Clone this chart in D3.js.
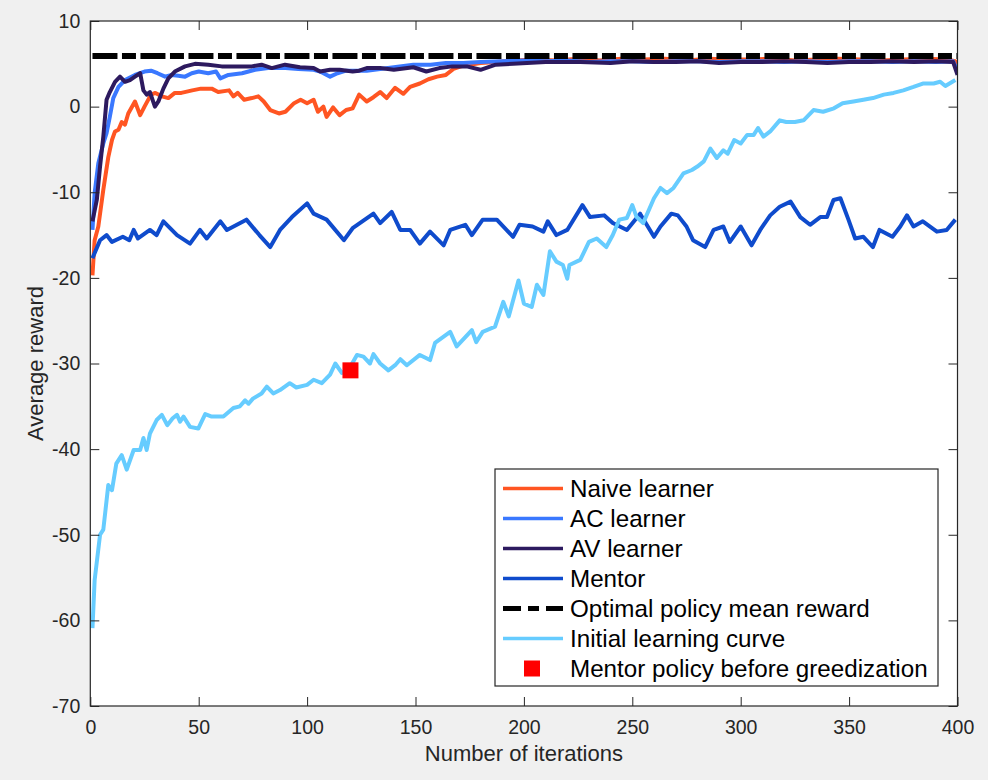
<!DOCTYPE html>
<html>
<head>
<meta charset="utf-8">
<script src="https://cdn.jsdelivr.net/npm/d3@7"></script>
<style>
  body { margin: 0; background: #f0f0f0; }
  svg { display: block; font-family: "Liberation Sans", Arial, Helvetica, sans-serif; }
  .axis path, .axis line { stroke: #262626; }
  .axis text { fill: #262626; font-size: 19.5px; }
</style>
</head>
<body>
<svg id="chart" width="988" height="780"></svg>
<script>
// x ticks, y ticks
var iterTicks = [0, 50, 100, 150, 200, 250, 300, 350, 400];
var rewardTicks = [-70, -60, -50, -40, -30, -20, -10, 0, 10];

// [iteration, average reward]
var naive = [[1,-19.7],[2,-15.6],[3.7,-14.0],[6,-9.7],[8.3,-5.9],[10,-3.9],[11.4,-2.9],[13,-2.7],[14.5,-1.8],[16,-2.1],[17.5,-0.8],[20.6,0.6],[23,-1.0],[25,0],[28,1.4],[30,1.6],[33,1.2],[36,1.0],[39,1.6],[42,1.6],[47,1.9],[51,2.1],[56,2.1],[59,1.7],[64,1.9],[66,1.2],[68,1.6],[71,0.8],[74.5,1.0],[77.5,1.2],[80,0.6],[83,-0.4],[87,-0.8],[90,-0.6],[94,0.4],[97,0.8],[100,0.4],[103,0.8],[105,-0.6],[107.5,0],[109,-1.2],[112,-0.1],[115,-1.0],[118,-0.4],[121,-0.2],[124,1.4],[127.5,0.6],[130.6,1.1],[133.7,1.7],[136.7,1.0],[140.6,2.2],[144.4,1.5],[147.5,2.3],[152,2.7],[156,3.2],[160,3.5],[164,3.7],[167.5,4.4],[171,4.7],[175,4.9],[180,5.1],[187,5.2],[195,5.4],[205,5.5],[215,5.4],[225,5.6],[235,5.4],[245,5.6],[255,5.5],[265,5.6],[275,5.4],[285,5.6],[295,5.5],[305,5.5],[315,5.6],[325,5.4],[335,5.5],[345,5.6],[355,5.5],[365,5.4],[375,5.5],[385,5.6],[395,5.5],[399,5.3],[400,4.6]];

var acLearner = [[1,-14.4],[2,-10.1],[3.7,-6.6],[6,-4.3],[7.5,-3.1],[9,-1.2],[10.6,1.0],[13,2.3],[16,3.1],[20.6,3.7],[25,4.1],[28,4.2],[31,3.9],[34.5,3.5],[37.5,3.7],[40.6,3.6],[43.7,3.5],[46.8,3.9],[50,4.1],[54.4,3.9],[58,4.1],[60,3.3],[63.7,3.7],[70,3.9],[76,4.3],[82,4.5],[90,4.5],[96,4.4],[103,4.3],[106,4.1],[110.6,3.5],[114,3.9],[118,4.2],[127.5,4.2],[133.7,4.4],[140,4.6],[149,4.9],[157,4.9],[164,5.1],[172,5.1],[180,5.2],[190,5.3],[200,5.4],[210,5.3],[220,5.4],[230,5.2],[240,5.3],[250,5.3],[260,5.2],[270,5.3],[280,5.3],[290,5.2],[300,5.3],[310,5.3],[320,5.2],[330,5.3],[340,5.2],[350,5.3],[360,5.3],[370,5.2],[380,5.3],[390,5.2],[398,5.3],[400,4.2]];

var avLearner = [[1,-13.4],[3,-10.9],[4.5,-7.0],[6,-3.5],[7.5,0.8],[9,1.7],[11.4,2.9],[13.7,3.5],[16,2.9],[18.3,3.1],[20.6,3.5],[23,3.9],[24.5,1.9],[26,1.4],[27.5,1.7],[29.8,0],[31.4,0.6],[33.7,2.1],[36,3.3],[39,4.1],[43.7,4.7],[48.3,5.0],[54.4,4.9],[60.6,4.7],[66.8,4.7],[74.5,4.7],[79,4.9],[83.7,4.5],[89.8,4.9],[96.7,4.6],[103,4.5],[106,4.1],[110.6,4.3],[115,4.3],[121,4.1],[124,4.2],[127.5,4.5],[133.7,4.5],[140,4.3],[149,4.6],[155,4.1],[161,4.5],[167,4.7],[173.6,4.7],[180,4.3],[187,4.9],[195,5.0],[210,5.2],[226,5.2],[240,5.1],[250,5.3],[260,5.2],[270,5.2],[280,5.3],[290,5.1],[300,5.2],[310,5.2],[320,5.3],[330,5.2],[340,5.1],[350,5.2],[360,5.2],[370,5.3],[380,5.2],[390,5.3],[398,5.2],[400,3.7]];

var mentor = [[1,-17.7],[4.5,-15.6],[7.5,-15.0],[10,-15.8],[15,-15.2],[18,-15.6],[20,-14.4],[22,-15.4],[27.5,-14.4],[30.6,-15.0],[33.7,-13.4],[40,-15.0],[46,-16.0],[50.6,-14.4],[53.7,-15.4],[60,-13.4],[63,-14.4],[72,-13.2],[78,-15.0],[83,-16.4],[87.5,-14.4],[93,-12.9],[100,-11.3],[103,-12.5],[109,-13.2],[117,-15.6],[121,-14.2],[130.6,-12.5],[133.7,-13.6],[139,-12.3],[143,-14.4],[147.5,-14.4],[152,-16.0],[156.7,-14.6],[163,-16.2],[166,-14.4],[173,-13.8],[176,-15.0],[181,-13.2],[187.5,-13.2],[195,-15.2],[198,-13.8],[204,-14.0],[209,-14.6],[211,-13.4],[215,-15.0],[220,-14.4],[227,-11.5],[230.5,-12.9],[237,-12.7],[241,-13.6],[247.5,-14.4],[253.6,-12.5],[260,-15.2],[263,-14.0],[268,-12.5],[271,-12.7],[275,-14.0],[278,-15.6],[283.6,-16.4],[287.5,-14.4],[292,-14.0],[295,-15.8],[300,-14.0],[305,-16.2],[309,-14.4],[313.6,-12.7],[318,-11.7],[323,-11.1],[327.5,-12.9],[332,-13.8],[336.7,-12.9],[339.8,-12.9],[342.8,-10.9],[346,-10.7],[349.7,-13.2],[352.8,-15.4],[356.6,-15.2],[361,-16.4],[364,-14.4],[370,-15.2],[373.6,-14.0],[376.7,-12.7],[379.7,-14.0],[384,-13.4],[390.5,-14.6],[395,-14.4],[399,-13.2]];

var optimal = [[1,5.9],[400,5.9]];

var initialCurve = [[1,-60.9],[2,-55.3],[4.5,-50.0],[6,-49.4],[8.3,-44.2],[10,-44.8],[12,-41.7],[14.5,-40.7],[16.8,-42.4],[20,-40.1],[23,-40.1],[24.5,-38.7],[26,-40.1],[27.5,-38.2],[30.6,-36.6],[33,-36.0],[35.5,-37.2],[38,-36.4],[40,-36.0],[41.4,-36.8],[43,-36.2],[46,-37.4],[49.8,-37.6],[53,-35.9],[56,-36.2],[61.4,-36.2],[66,-35.2],[69,-35.0],[71.4,-34.3],[73,-34.7],[75,-34.1],[79,-33.5],[81.4,-32.7],[84.4,-33.5],[87.5,-33.1],[92,-32.3],[95,-32.8],[100,-32.5],[103,-31.9],[106.8,-32.3],[110.6,-31.3],[113,-30.0],[116,-31.1],[119,-30.8],[123,-29.0],[126,-29.2],[129,-30.0],[130.6,-28.9],[133.7,-30.0],[137.5,-30.8],[140.6,-30.2],[143,-29.5],[146,-30.2],[152,-29.0],[156.7,-29.6],[159,-27.6],[166,-26.3],[169,-28.0],[176,-26.1],[178,-27.5],[181,-26.3],[186.7,-25.7],[190.5,-22.8],[193,-24.5],[197.5,-20.3],[200,-23.0],[203.6,-23.4],[206,-20.8],[209,-22.0],[212,-16.9],[215,-18.1],[218,-18.5],[220,-20.1],[221,-18.5],[226,-17.9],[230,-15.8],[233.6,-15.4],[238,-16.4],[241,-15.0],[244,-13.2],[247.5,-13.0],[250,-11.5],[252,-12.9],[255,-13.6],[260,-10.7],[263,-9.5],[266,-10.1],[269,-9.5],[273.6,-7.8],[277.5,-7.4],[280,-7.0],[283,-6.4],[286,-4.9],[289,-6.0],[292,-5.1],[294,-5.5],[297,-3.9],[300,-4.3],[303,-3.3],[306,-3.3],[308,-2.5],[310.5,-3.5],[313.6,-2.9],[318,-1.6],[321,-1.8],[325,-1.8],[329,-1.6],[333.6,-0.4],[338,-0.6],[343,-0.2],[347,0.4],[352,0.6],[356.6,0.8],[361,1.0],[366,1.4],[370.5,1.6],[375,1.9],[379.7,2.3],[384,2.7],[389,2.7],[392,2.9],[394.4,2.4],[399,3.1]];

var mentorPolicy = [[120,-30.8]];

var series = [
  { name: 'Naive learner', data: naive, color: '#ff5522', width: 4 },
  { name: 'AC learner', data: acLearner, color: '#3a78ff', width: 4 },
  { name: 'AV learner', data: avLearner, color: '#2d1a5f', width: 4 },
  { name: 'Mentor', data: mentor, color: '#0f4bcc', width: 4 },
  { name: 'Optimal policy mean reward', data: optimal, color: '#000000', width: 6, dash: '25,4.5,14,4.5' },
  { name: 'Initial learning curve', data: initialCurve, color: '#66ccff', width: 4 }
];

var margin = { left: 90.3, top: 21, right: 30.5, bottom: 74 };
var svg = d3.select('#chart');
var W = +svg.attr('width'), H = +svg.attr('height');
var w = W - margin.left - margin.right, h = H - margin.top - margin.bottom;

svg.append('rect').attr('width', W).attr('height', H).attr('fill', '#f0f0f0');

var g = svg.append('g').attr('transform', 'translate(' + margin.left + ',' + margin.top + ')');
g.append('rect').attr('width', w).attr('height', h).attr('fill', '#fff');

var x = d3.scaleLinear().domain([0, 400]).range([0, w]);
var y = d3.scaleLinear().domain([-70, 10]).range([h, 0]);

g.append('clipPath').attr('id', 'plotclip').append('rect').attr('width', w).attr('height', h);

var line = d3.line().x(function(d) { return x(d[0]); }).y(function(d) { return y(d[1]); });

var plot = g.append('g').attr('clip-path', 'url(#plotclip)');
series.forEach(function(s) {
  plot.append('path')
    .datum(s.data)
    .attr('d', line)
    .attr('fill', 'none')
    .attr('stroke', s.color)
    .attr('stroke-width', s.width)
    .attr('stroke-linejoin', 'round')
    .attr('stroke-dasharray', s.dash || null);
});

var msize = 16;
plot.selectAll('.marker')
  .data(mentorPolicy)
  .enter().append('rect')
  .attr('class', 'marker')
  .attr('x', function(d) { return x(d[0]) - msize / 2; })
  .attr('y', function(d) { return y(d[1]) - msize / 2; })
  .attr('width', msize).attr('height', msize)
  .attr('fill', '#ff0000');

// axes, ticks inside on all four sides, plain hyphen for negatives
var tl = 9;
var plain = function(d) { return String(d); };
g.append('g').attr('class', 'axis').attr('transform', 'translate(0,' + h + ')')
  .call(d3.axisBottom(x).tickValues(iterTicks).tickFormat(plain).tickSizeInner(-tl).tickSizeOuter(0).tickPadding(14));
g.append('g').attr('class', 'axis')
  .call(d3.axisTop(x).tickValues(iterTicks).tickSizeInner(-tl).tickSizeOuter(0).tickFormat(''));
g.append('g').attr('class', 'axis')
  .call(d3.axisLeft(y).tickValues(rewardTicks).tickFormat(plain).tickSizeInner(-tl).tickSizeOuter(0).tickPadding(10));
g.append('g').attr('class', 'axis').attr('transform', 'translate(' + w + ',0)')
  .call(d3.axisRight(y).tickValues(rewardTicks).tickSizeInner(-tl).tickSizeOuter(0).tickFormat(''));
g.selectAll('.axis .domain').remove();
g.selectAll('.axis text').attr('font-family', null).attr('font-size', null);

g.append('rect').attr('width', w).attr('height', h)
  .attr('fill', 'none').attr('stroke', '#262626').attr('stroke-width', 1.2);

svg.append('text')
  .attr('x', margin.left + w / 2).attr('y', 761)
  .attr('text-anchor', 'middle').attr('fill', '#262626').attr('font-size', 22)
  .text('Number of iterations');
svg.append('text')
  .attr('transform', 'translate(43,' + (margin.top + h / 2) + ') rotate(-90)')
  .attr('text-anchor', 'middle').attr('fill', '#262626').attr('font-size', 22)
  .text('Average reward');

// legend
var legend = svg.append('g').attr('transform', 'translate(495,469)');
legend.append('rect').attr('width', 443).attr('height', 217)
  .attr('fill', '#fff').attr('stroke', '#262626').attr('stroke-width', 1.2);

var legendItems = series.concat([{ name: 'Mentor policy before greedization', marker: true }]);
var row = legend.selectAll('.item')
  .data(legendItems)
  .enter().append('g')
  .attr('class', 'item')
  .attr('transform', function(d, i) { return 'translate(0,' + (19.5 + i * 30) + ')'; });

row.filter(function(d) { return !d.marker; }).append('line')
  .attr('x1', 8).attr('x2', 68)
  .attr('stroke', function(d) { return d.color; })
  .attr('stroke-width', function(d) { return d.dash ? 5 : 3.3; })
  .attr('stroke-dasharray', function(d) { return d.dash ? '18,7,11,7' : null; });

row.filter(function(d) { return d.marker; }).append('rect')
  .attr('x', 37 - msize / 2).attr('y', -msize / 2)
  .attr('width', msize).attr('height', msize).attr('fill', '#ff0000');

row.append('text')
  .attr('x', 75).attr('dy', '0.36em')
  .attr('font-size', 24.2).attr('fill', '#000')
  .text(function(d) { return d.name; });
</script>
</body>
</html>
